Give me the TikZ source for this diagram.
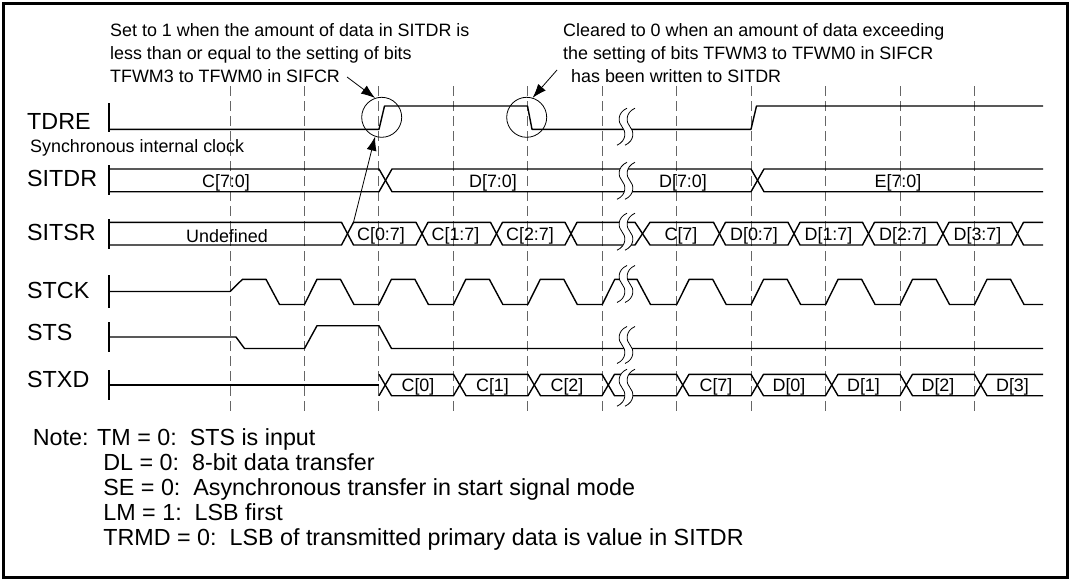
\documentclass[tikz,border=0pt]{standalone}
\usepackage{fontspec}
\setmainfont{Liberation Sans}
\usetikzlibrary{arrows.meta}

\begin{document}
\begin{tikzpicture}[
  x=1pt, y=-1pt,
  sig/.style={line width=1.4pt, line join=round},
  gridline/.style={black!60, line width=0.9pt, dash pattern=on 10pt off 5pt},
  signame/.style={font=\fontsize{23.3}{28}\selectfont, inner sep=0pt, anchor=base west},
  val/.style={font=\fontsize{17.9}{21}\selectfont, inner sep=0pt, anchor=base},
  note/.style={font=\fontsize{17.9}{23}\selectfont, inner sep=0pt, align=left, anchor=north west},
  ring/.style={circle, draw, line width=0.8pt, minimum size=40pt, inner sep=0pt},
  brk/.style={line width=0.8pt},
  arr/.style={-{Latex[length=14pt, width=10pt]}, line width=0.8pt},
]
\useasboundingbox (0,0) rectangle (1072,581);

% Frame
\draw[line width=2.5pt] (3.5,3.5) rectangle (1067.5,577.5);

% Dashed clock grid
\foreach \i in {0,...,10}
  \draw[gridline] ({230+74.45*\i},86) -- ++(0,327);

% Signal names
\node[signame] (tdre) at (27,129.3) {TDRE};
\node[signame] (sitdr) at (27,186.5) {SITDR};
\node[signame] (sitsr) at (27,240.5) {SITSR};
\node[signame] (stck) at (27,298.5) {STCK};
\node[signame] (sts) at (27,340.5) {STS};
\node[signame] (stxd) at (27,387.5) {STXD};
\node[val, anchor=base west] (clkmode) at (30,152) {Synchronous internal clock};

% Start ticks
\foreach \t/\b in {103/132, 165/195, 219/249, 275/308, 322/352, 370/400}
  \draw[sig] (109,\t) -- (109,\b);

% TDRE
\draw[sig] (109,129.3) -- (379,129.3) -- (384.5,106) -- (527.5,106) -- (532,129.3)
  -- (751,129.3) -- (756.5,106) -- (1043,106);

% SITDR
\draw[sig] (109,169) -- (379,169) -- (392,191.7) -- (751,191.7) -- (764,169) -- (1043,169);
\draw[sig] (109,191.7) -- (379,191.7) -- (392,169) -- (751,169) -- (764,191.7) -- (1043,191.7);
\node[val] (sitdr-c) at (226,187.3) {C[7:0]};
\node[val] (sitdr-d) at (493,187.3) {D[7:0]};
\node[val] (sitdr-dd) at (683,187.3) {D[7:0]};
\node[val] (sitdr-e) at (898,187.3) {E[7:0]};

% SITSR
\draw[sig] (109,222.3) -- (341.5,222.3) -- (353.5,245) -- (416,245) -- (428,222.3)
  -- (490.5,222.3) -- (502.5,245) -- (565,245) -- (577,222.3) -- (635,222.3)
  -- (650,245) -- (713.5,245) -- (725.5,222.3) -- (788,222.3) -- (800,245)
  -- (862.5,245) -- (874.5,222.3) -- (937,222.3) -- (949,245) -- (1011.5,245)
  -- (1023.5,222.3) -- (1043,222.3);
\draw[sig] (109,245) -- (341.5,245) -- (353.5,222.3) -- (416,222.3) -- (428,245)
  -- (490.5,245) -- (502.5,222.3) -- (565,222.3) -- (577,245) -- (635,245)
  -- (650,222.3) -- (713.5,222.3) -- (725.5,245) -- (788,245) -- (800,222.3)
  -- (862.5,222.3) -- (874.5,245) -- (937,245) -- (949,222.3) -- (1011.5,222.3)
  -- (1023.5,245) -- (1043,245);
\node[val] (sitsr-u) at (227,242.3) {Undefined};
\node[val] (sitsr-c0) at (381,240.2) {C[0:7]};
\node[val] (sitsr-c1) at (455.5,240.2) {C[1:7]};
\node[val] (sitsr-c2) at (530,240.2) {C[2:7]};
\node[val] (sitsr-c7) at (681,240.2) {C[7]};
\node[val] (sitsr-d0) at (754,240.2) {D[0:7]};
\node[val] (sitsr-d1) at (828.5,240.2) {D[1:7]};
\node[val] (sitsr-d2) at (903,240.2) {D[2:7]};
\node[val] (sitsr-d3) at (977.5,240.2) {D[3:7]};

% STCK
\draw[sig] (109,291.5) -- (230,291.5) -- (242.5,279.3) -- (266,279.3) -- (279.5,304.5) -- (304.5,304.5);
\foreach \x in {304.45,378.9,453.35,527.8,676.7,751.15,825.6,900.05}
  \draw[sig] (\x,304.5) -- ++(12.5,-25.2) -- ++(23.5,0) -- ++(13.5,25.2) -- ++(25,0);
\draw[sig] (602.25,304.5) -- (614.75,279.3) -- (637,279.3) -- (650.5,304.5) -- (676.7,304.5);
\draw[sig] (974.5,304.5) -- (987,279.3) -- (1010.5,279.3) -- (1024,304.5) -- (1043,304.5);

% STS
\draw[sig] (109,337) -- (236,337) -- (244.5,348.5) -- (304.5,348.5) -- (317,325.7)
  -- (379,325.7) -- (391.5,348.5) -- (1043,348.5);

% STXD
\draw[sig] (109,385) -- (379,385);
\draw[sig] (379,374.3) -- (391.5,395.7) -- (453.5,395.7) -- (466,374.3) -- (528,374.3)
  -- (540.5,395.7) -- (602,395.7) -- (614.5,374.3) -- (676.5,374.3) -- (689,395.7)
  -- (751,395.7) -- (763.5,374.3) -- (825.5,374.3) -- (838,395.7) -- (900,395.7)
  -- (912.5,374.3) -- (974.5,374.3) -- (987,395.7) -- (1043,395.7);
\draw[sig] (379,395.7) -- (391.5,374.3) -- (453.5,374.3) -- (466,395.7) -- (528,395.7)
  -- (540.5,374.3) -- (602,374.3) -- (614.5,395.7) -- (676.5,395.7) -- (689,374.3)
  -- (751,374.3) -- (763.5,395.7) -- (825.5,395.7) -- (838,374.3) -- (900,374.3)
  -- (912.5,395.7) -- (974.5,395.7) -- (987,374.3) -- (1043,374.3);
\node[val] (stxd-c0) at (418,391.5) {C[0]};
\node[val] (stxd-c1) at (492.5,391.5) {C[1]};
\node[val] (stxd-c2) at (567,391.5) {C[2]};
\node[val] (stxd-c7) at (716,391.5) {C[7]};
\node[val] (stxd-d0) at (789,391.5) {D[0]};
\node[val] (stxd-d1) at (863.5,391.5) {D[1]};
\node[val] (stxd-d2) at (938,391.5) {D[2]};
\node[val] (stxd-d3) at (1012.5,391.5) {D[3]};

% Time breaks
\foreach \y in {126.7,180.8,231.7,284,345,387.7} {
  \fill[white] (627,\y-18.5) .. controls (617,\y-14) and (618,\y-4) .. (622,\y)
    .. controls (626,\y+4) and (627,\y+14) .. (617,\y+18.5) -- (625,\y+18.5)
    .. controls (635,\y+14) and (634,\y+4) .. (630,\y)
    .. controls (626,\y-4) and (625,\y-14) .. (635,\y-18.5) -- cycle;
  \draw[brk] (627,\y-18.5) .. controls (617,\y-14) and (618,\y-4) .. (622,\y)
    .. controls (626,\y+4) and (627,\y+14) .. (617,\y+18.5);
  \draw[brk] (635,\y-18.5) .. controls (625,\y-14) and (626,\y-4) .. (630,\y)
    .. controls (634,\y+4) and (635,\y+14) .. (625,\y+18.5);
}

% TDRE edges marked
\node[ring] (setring) at (381.7,117.3) {};
\node[ring] (clrring) at (526.7,117.3) {};

% Notes on the edges
\node[note] (setnote) at (110,23.5)
  {Set to 1 when the amount of data in SITDR is\\less than or equal to the setting of bits\\TFWM3 to TFWM0 in SIFCR};
\node[note] (clrnote) at (563,23.5)
  {Cleared to 0 when an amount of data exceeding\\the setting of bits TFWM3 to TFWM0 in SIFCR\\\hspace*{8pt}has been written to SITDR};

% Arrows
\coordinate (settail) at (347,77);
\coordinate (clrtail) at (557,70);
\coordinate (sitsrx) at (353.5,222.3);
\draw[arr] (settail) -- (setring.109);
\draw[arr] (clrtail) -- (clrring.73);
\draw[arr] (sitsrx) -- (setring.251);

% Register settings
\node[note, font=\fontsize{23.3}{25}\selectfont] (notes) at (32.7,428.5)
  {Note: TM = 0:\ \ STS is input\\
   \hspace*{70.5pt}DL = 0:\ \ 8-bit data transfer\\
   \hspace*{70.5pt}SE = 0:\ \ Asynchronous transfer in start signal mode\\
   \hspace*{70.5pt}LM = 1:\ \ LSB first\\
   \hspace*{70.5pt}TRMD = 0:\ \ LSB of transmitted primary data is value in SITDR};

\end{tikzpicture}
\end{document}
